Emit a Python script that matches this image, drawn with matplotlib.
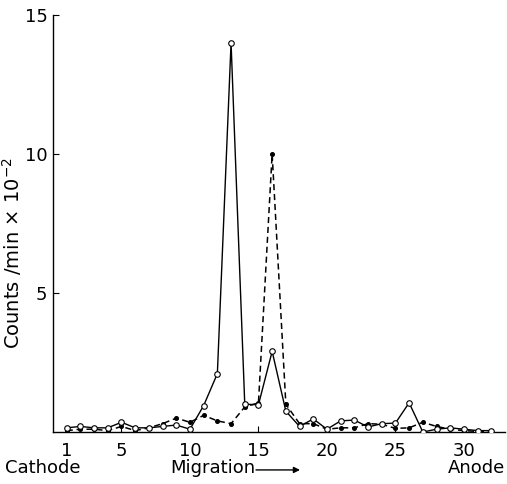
import matplotlib
matplotlib.use("Agg")
import matplotlib.pyplot as plt

fractions = list(range(1, 33))
solid_open = [0.15, 0.2, 0.15, 0.15, 0.35, 0.15, 0.15, 0.2, 0.25, 0.1,
              0.95, 2.1, 14.0, 1.0, 0.98, 2.9, 0.75, 0.2, 0.47, 0.1,
              0.4, 0.43, 0.18, 0.3, 0.32, 1.05, 0.0, 0.1, 0.15, 0.1,
              0.05, 0.05]
dashed_filled = [0.05, 0.1, 0.1, 0.05, 0.2, 0.05, 0.15, 0.3, 0.5, 0.35,
                 0.6, 0.4, 0.3, 0.9, 1.05, 10.0, 1.0, 0.3, 0.3, 0.1,
                 0.15, 0.15, 0.3, 0.28, 0.13, 0.15, 0.35, 0.2, 0.1, 0.05,
                 0.02, 0.0]
xticks = [1, 5, 10, 15, 20, 25, 30]
yticks = [5, 10, 15]

plt.rcParams['font.family'] = ['DejaVu Sans']
fig = plt.figure(figsize=(5.07, 4.84), dpi=100)
ax = fig.add_axes([53/507, 52/484, 452/507, 417/484])

ax.plot(fractions, dashed_filled, linestyle=(0, (4, 2.5)), color='black', lw=1.1,
        marker='o', markersize=2.6, markerfacecolor='black', markeredgecolor='black', zorder=2)
ax.plot(fractions, solid_open, linestyle='-', color='black', lw=1.0,
        marker='o', markersize=4, markerfacecolor='white', markeredgecolor='black',
        markeredgewidth=0.8, zorder=3)

ax.set_xlim(0, 33)
ax.set_ylim(0, 15)
ax.spines['top'].set_visible(False)
ax.spines['right'].set_visible(False)
ax.spines['left'].set_linewidth(1.0)
ax.spines['bottom'].set_linewidth(1.0)
ax.set_xticks(xticks)
ax.set_xticklabels([str(t) for t in xticks], fontsize=13)
ax.set_yticks(yticks)
ax.set_yticklabels([str(t) for t in yticks], fontsize=13)
ax.tick_params(axis='x', direction='in', length=4, width=0.8, pad=7)
ax.tick_params(axis='y', direction='in', length=4, width=0.8, pad=4)
ax.set_ylabel('Counts /min \u00d7 10$^{-2}$', fontsize=14)
ax.yaxis.set_label_coords(-29/452, 0.43)

ty = 1 - 468/484
fig.text(5/507, ty, 'Cathode', fontsize=13, ha='left', va='center')
fig.text(170/507, ty, 'Migration', fontsize=13, ha='left', va='center')
ax.annotate('', xy=(300/507, ty - 0.004), xytext=(256/507, ty - 0.004),
            xycoords='figure fraction', textcoords='figure fraction',
            arrowprops=dict(arrowstyle='-|>', lw=1.0, color='black',
                            mutation_scale=9, shrinkA=0, shrinkB=0))
fig.text(505/507, ty, 'Anode', fontsize=13, ha='right', va='center')

fig.savefig('out.png', dpi=100)
